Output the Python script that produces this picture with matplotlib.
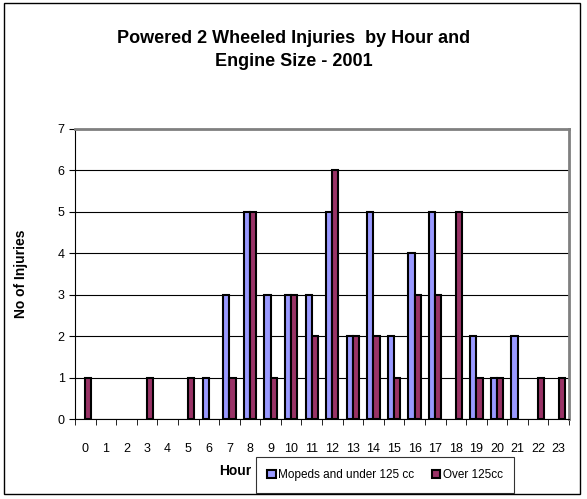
import numpy as np
import matplotlib.pyplot as plt
from matplotlib.patches import Rectangle

hours = list(range(24))
mopeds = [0, 0, 0, 0, 0, 0, 1, 3, 5, 3, 3, 3, 5, 2, 5, 2, 4, 5, 0, 2, 1, 2, 0, 0]
over125 = [1, 0, 0, 1, 0, 1, 0, 1, 5, 1, 3, 2, 6, 2, 2, 1, 3, 3, 5, 1, 1, 0, 1, 1]

plt.rcParams['font.family'] = ['Liberation Sans', 'DejaVu Sans']

fig = plt.figure(figsize=(5.87, 4.99), dpi=100)
fig.patches.append(Rectangle((0.006, 0.01), 0.982, 0.983, transform=fig.transFigure,
                             fill=False, edgecolor='black', linewidth=1))
ax = fig.add_axes([75 / 587, 80 / 499, 494 / 587, 290 / 499])

x = np.arange(len(hours))
w = 0.3
m = np.array(mopeds)
o = np.array(over125)
# Excel leaves zero values empty, so skip them
ax.bar(x[m > 0] - w / 2, m[m > 0], w, color='#9999ff', edgecolor='black', linewidth=1.5,
       label='Mopeds and under 125 cc', zorder=3)
ax.bar(x[o > 0] + w / 2, o[o > 0], w, color='#993366', edgecolor='black', linewidth=1.5,
       label='Over 125cc', zorder=3)

ax.set_xlim(-0.5, 23.5)
ax.set_ylim(0, 7)
ax.set_yticks(range(8))
ax.yaxis.grid(True, color='black', linewidth=0.8, zorder=0)
ax.set_xticks(x)
ax.set_xticklabels(hours, fontsize=9)
ax.set_xticks(np.arange(-0.5, 24, 1), minor=True)
ax.tick_params(axis='x', which='major', length=0, pad=17)
ax.tick_params(axis='x', which='minor', length=4, direction='out')
ax.tick_params(axis='y', labelsize=9, length=4)
for s in ['top', 'right']:
    ax.spines[s].set_color('#808080')
    ax.spines[s].set_linewidth(2)

ax.set_ylabel('No of Injuries', fontsize=10, fontweight='bold', labelpad=21)
fig.text(235 / 587, 1 - 471 / 499, 'Hour', fontsize=10, fontweight='bold',
         ha='center', va='center')
fig.suptitle('Powered 2 Wheeled Injuries  by Hour and\nEngine Size - 2001',
             fontsize=13, fontweight='bold', y=1 - 50 / 499, va='center',
             linespacing=1.45)

leg = fig.legend(loc='center', bbox_to_anchor=(385 / 587, 1 - 475 / 499), ncol=2,
                 fontsize=8.5, frameon=True, fancybox=False, edgecolor='black',
                 handlelength=0.7, handleheight=0.7, handletextpad=0.2,
                 columnspacing=1.5, borderpad=1.0)
leg.get_frame().set_linewidth(0.8)

plt.savefig('out.png', dpi=100)
